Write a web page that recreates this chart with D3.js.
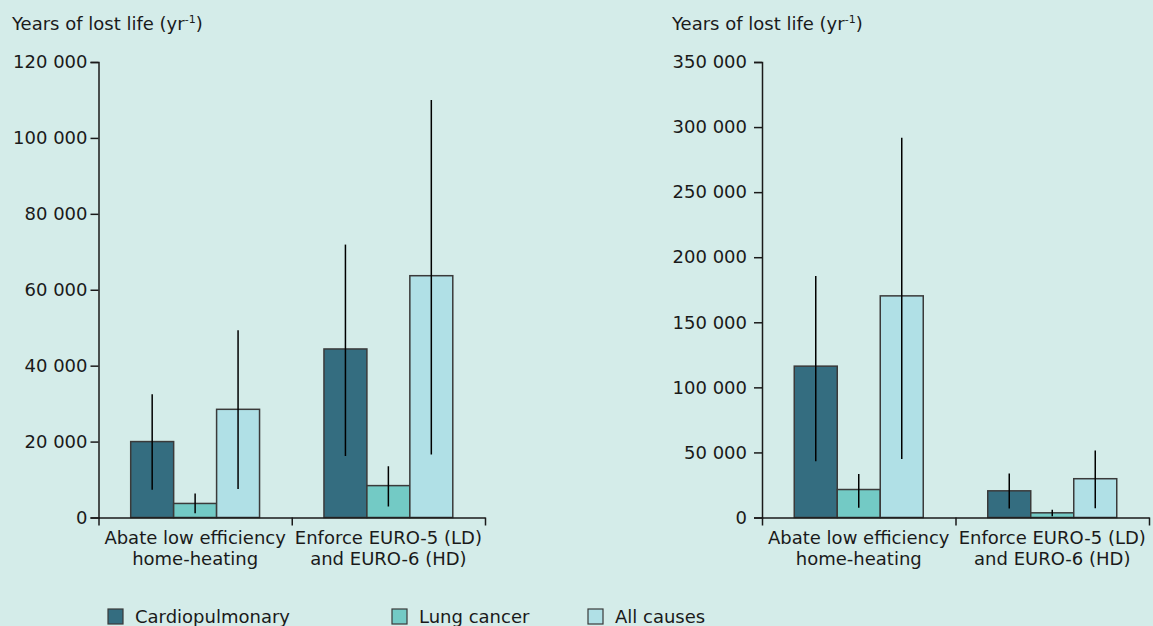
<!DOCTYPE html>
<html>
<head>
<meta charset="utf-8">
<script src="https://cdn.jsdelivr.net/npm/d3@7"></script>
<style>
  html, body { margin: 0; padding: 0; background: #d4ece9; }
  svg { display: block; }
  text { font-family: "DejaVu Sans", Verdana, sans-serif; fill: #1a1a1a; }
</style>
</head>
<body>
<svg id="chart" width="1153" height="626"></svg>
<script>
// Measures (x-axis categories), each label split over two lines
const measures = ["heating", "euro"];
const measureLines = [
  ["Abate low efficiency", "home-heating"],
  ["Enforce EURO-5 (LD)", "and EURO-6 (HD)"]
];

// Causes of death (bar series)
const causes = ["Cardiopulmonary", "Lung cancer", "All causes"];
const causeColors = ["#346d80", "#73cac5", "#b0e0e6"];

// Left panel: years of lost life per year, with uncertainty ranges
const leftValues = [
  [20000, 3700, 28500],
  [44400, 8400, 63700]
];
const leftLow = [
  [7300, 1100, 7500],
  [16200, 2900, 16600]
];
const leftHigh = [
  [32500, 6300, 49300],
  [71900, 13500, 110000]
];
const leftTicks = [0, 20000, 40000, 60000, 80000, 100000, 120000];

// Right panel
const rightValues = [
  [116300, 21500, 170300],
  [20500, 3600, 29800]
];
const rightLow = [
  [43300, 7500, 45000],
  [7000, 1000, 7200]
];
const rightHigh = [
  [185600, 33500, 291800],
  [33800, 5900, 51500]
];
const rightTicks = [0, 50000, 100000, 150000, 200000, 250000, 300000, 350000];

const axisTitle = "Years of lost life (yr";

const svg = d3.select("#chart");
const locale = d3.formatLocale({ decimal: ".", thousands: " ", grouping: [3], currency: ["", ""] });
const fmt = locale.format(",d");

function panel(opts) {
  const { x0px, x1px, top, bottom, maxV, ticks, values, low, high, titleX, tickPad } = opts;
  const g = svg.append("g");

  const y = d3.scaleLinear().domain([0, maxV]).range([bottom, top]);
  const x0 = d3.scaleBand().domain(measures).range([x0px, x1px]).padding(0);
  const x1 = d3.scaleBand().domain(causes).range([0, x0.bandwidth()])
    .paddingInner(0).paddingOuter(0.75);
  const color = d3.scaleOrdinal().domain(causes).range(causeColors);

  // Axis title with superscript
  const t = g.append("text").attr("x", titleX).attr("y", 30).style("font-size", "18px").text(axisTitle);
  t.append("tspan").attr("dy", -7).style("font-size", "11px").text("-1");
  t.append("tspan").attr("dy", 7).text(")");

  // Bars
  const rows = measures.map((m, i) => causes.map((c, j) => ({
    m, c, v: values[i][j], lo: low[i][j], hi: high[i][j]
  })));
  const groups = g.selectAll("g.grp").data(rows).join("g")
    .attr("class", "grp")
    .attr("transform", (d, i) => `translate(${x0(measures[i])},0)`);

  groups.selectAll("rect").data(d => d).join("rect")
    .attr("x", d => x1(d.c))
    .attr("y", d => y(d.v))
    .attr("width", x1.bandwidth())
    .attr("height", d => y(0) - y(d.v))
    .attr("fill", d => color(d.c))
    .attr("stroke", "#3a3a3a")
    .attr("stroke-width", 1.5);

  // Error bars
  groups.selectAll("line.err").data(d => d).join("line")
    .attr("class", "err")
    .attr("x1", d => x1(d.c) + x1.bandwidth() / 2)
    .attr("x2", d => x1(d.c) + x1.bandwidth() / 2)
    .attr("y1", d => y(d.hi))
    .attr("y2", d => y(d.lo))
    .attr("stroke", "#000")
    .attr("stroke-width", 1.5);

  // Y axis
  const yAxis = g.append("g").attr("transform", `translate(${x0px},0)`)
    .call(d3.axisLeft(y).tickValues(ticks).tickFormat(fmt).tickSize(8).tickSizeOuter(8).tickPadding(tickPad));
  yAxis.selectAll("path, line").attr("stroke", "#1a1a1a").attr("stroke-width", 1.5);
  yAxis.selectAll("text").style("font-size", "18px").attr("fill", "#1a1a1a").attr("font-family", null);

  // X axis: baseline with ticks at category boundaries
  const xb = d3.scaleLinear().domain([0, measures.length]).range([x0px, x1px]);
  const xAxis = g.append("g").attr("transform", `translate(0,${bottom})`)
    .call(d3.axisBottom(xb).tickValues(d3.range(measures.length + 1)).tickFormat("").tickSize(8).tickSizeOuter(0));
  xAxis.selectAll("path, line").attr("stroke", "#1a1a1a").attr("stroke-width", 1.5);

  // Category labels
  const lab = g.selectAll("text.cat").data(measures).join("text")
    .attr("class", "cat")
    .attr("text-anchor", "middle")
    .style("font-size", "18px")
    .attr("transform", d => `translate(${x0(d) + x0.bandwidth() / 2},${bottom + 26})`);
  lab.selectAll("tspan").data((d, i) => measureLines[i]).join("tspan")
    .attr("x", 0)
    .attr("dy", (d, k) => k === 0 ? 0 : 21)
    .text(d => d);
}

panel({ x0px: 98.5, x1px: 485, top: 62, bottom: 517.5, maxV: 120000, ticks: leftTicks,
  values: leftValues, low: leftLow, high: leftHigh, titleX: 12, tickPad: 3 });
panel({ x0px: 762, x1px: 1149, top: 62, bottom: 517.5, maxV: 350000, ticks: rightTicks,
  values: rightValues, low: rightLow, high: rightHigh, titleX: 672, tickPad: 7 });

// Legend
const legendX = [108, 392, 588];
const legend = svg.append("g").selectAll("g").data(causes).join("g")
  .attr("transform", (d, i) => `translate(${legendX[i]},609)`);
legend.append("rect")
  .attr("width", 15).attr("height", 15)
  .attr("fill", (d, i) => causeColors[i])
  .attr("stroke", "#3a3a3a").attr("stroke-width", 1.2);
legend.append("text")
  .attr("x", 27).attr("y", 13.5)
  .style("font-size", "18px")
  .text(d => d);
</script>
</body>
</html>
